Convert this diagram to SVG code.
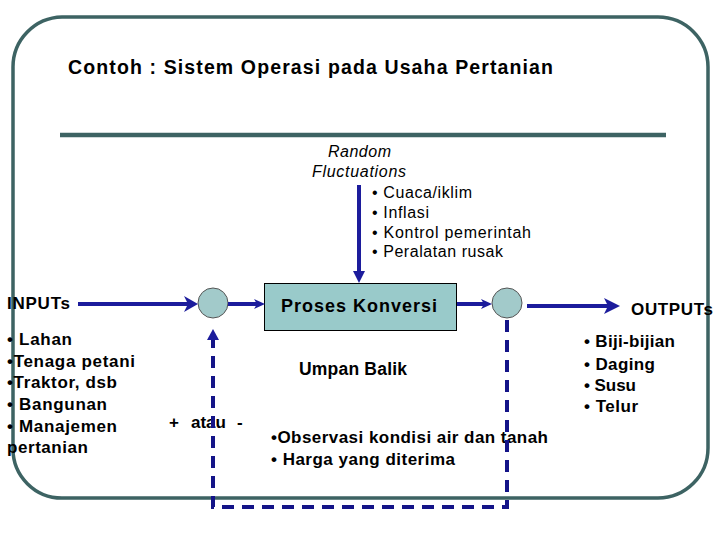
<svg xmlns="http://www.w3.org/2000/svg" width="720" height="540" viewBox="0 0 720 540">
<defs>
<style>
.frame{fill:none;stroke:#3d6363;stroke-width:3.5}
.t{font-family:"Liberation Sans",Arial,sans-serif;fill:#000}
.b{font-weight:bold}
.it{font-style:italic}
.arrow{stroke:#1c1c9c;stroke-width:4;fill:none}
.head{fill:#1c1c9c}
.dash{stroke:#141488;stroke-width:4;fill:none;stroke-dasharray:12 8}
.node{fill:#a2caca;stroke:#555;stroke-width:1}
</style>
</defs>
<rect width="720" height="540" fill="#fff"/>
<path class="frame" d="M62,17 H658 A50,50 0 0 1 708,67 V448 A50,50 0 0 1 658,498 H62 A49,49 0 0 1 13,449 V67 A50,50 0 0 1 62,17 Z"/>
<line x1="60" y1="135" x2="666" y2="135" stroke="#3d6363" stroke-width="4.5"/>
<text class="t b" x="68" y="74" font-size="19.5" textLength="485" lengthAdjust="spacing">Contoh : Sistem Operasi pada Usaha Pertanian</text>

<g id="random">
<text class="t it" x="328" y="157" font-size="16" textLength="63" lengthAdjust="spacing">Random</text>
<text class="t it" x="312" y="177" font-size="16" textLength="94" lengthAdjust="spacing">Fluctuations</text>
<text class="t" x="372" y="198" font-size="16" textLength="100" lengthAdjust="spacing">• Cuaca/iklim</text>
<text class="t" x="372" y="218" font-size="16" textLength="57" lengthAdjust="spacing">• Inflasi</text>
<text class="t" x="372" y="238" font-size="16" textLength="159" lengthAdjust="spacing">• Kontrol pemerintah</text>
<text class="t" x="372" y="257" font-size="16" textLength="131" lengthAdjust="spacing">• Peralatan rusak</text>
</g>

<g id="inputs">
<text class="t b" x="7" y="309" font-size="17" textLength="63" lengthAdjust="spacing">INPUTs</text>
<text class="t b" x="7" y="345" font-size="17" textLength="65" lengthAdjust="spacing">• Lahan</text>
<text class="t b" x="7" y="367" font-size="17" textLength="128" lengthAdjust="spacing">•Tenaga petani</text>
<text class="t b" x="7" y="388" font-size="17" textLength="110" lengthAdjust="spacing">•Traktor, dsb</text>
<text class="t b" x="7" y="410" font-size="17" textLength="100" lengthAdjust="spacing">• Bangunan</text>
<text class="t b" x="7" y="432" font-size="17" textLength="110" lengthAdjust="spacing">• Manajemen</text>
<text class="t b" x="7" y="453" font-size="17" textLength="81" lengthAdjust="spacing">pertanian</text>
</g>

<g id="sum1"><circle class="node" cx="213" cy="303" r="15"/></g>

<g id="proses">
<rect x="264.5" y="283.5" width="192" height="47" fill="#99caca" stroke="#000" stroke-width="1"/>
<text class="t b" x="281" y="312" font-size="18" textLength="156" lengthAdjust="spacing">Proses Konversi</text>
</g>

<g id="sum2"><circle class="node" cx="507" cy="303" r="15"/></g>

<g id="outputs">
<text class="t b" x="631" y="315" font-size="17" textLength="82" lengthAdjust="spacing">OUTPUTs</text>
<text class="t b" x="584" y="347" font-size="17" textLength="91" lengthAdjust="spacing">• Biji-bijian</text>
<text class="t b" x="584" y="370" font-size="17" textLength="71" lengthAdjust="spacing">• Daging</text>
<text class="t b" x="584" y="391" font-size="17" textLength="52" lengthAdjust="spacing">• Susu</text>
<text class="t b" x="584" y="412" font-size="17" textLength="54" lengthAdjust="spacing">• Telur</text>
</g>

<g id="feedback-labels">
<text class="t b" x="299" y="375" font-size="17.5" textLength="108" lengthAdjust="spacing">Umpan Balik</text>
<text class="t b" x="169" y="428" font-size="17">+</text>
<text class="t b" x="191" y="428" font-size="17">atau</text>
<text class="t b" x="237" y="428" font-size="17">-</text>
<text class="t b" x="271" y="443" font-size="17" textLength="277" lengthAdjust="spacing">•Observasi kondisi air dan tanah</text>
<text class="t b" x="271" y="465" font-size="17" textLength="184" lengthAdjust="spacing">• Harga yang diterima</text>
</g>

<g id="connectors">
<line class="arrow" x1="359" y1="185" x2="359" y2="273"/>
<polygon class="head" points="353,271 365,271 359,283"/>
<line class="arrow" x1="78" y1="304" x2="188" y2="304"/>
<polygon class="head" points="184,296 198,304 184,312 188,304"/>
<line class="arrow" x1="228" y1="304" x2="257" y2="304" stroke-width="3"/>
<polygon class="head" points="254,299 265,304 254,309 257,304"/>
<line class="arrow" x1="457" y1="304" x2="484" y2="304" stroke-width="3"/>
<polygon class="head" points="481,299 492,304 481,309 484,304"/>
<line class="arrow" x1="527" y1="306" x2="608" y2="306"/>
<polygon class="head" points="604,298 620,306 604,314 608,306"/>
<path class="dash" d="M507,320 V507 H213 V338"/>
<polygon class="head" points="207,340 219,340 213,329" fill="#141488"/>
</g>
</svg>
